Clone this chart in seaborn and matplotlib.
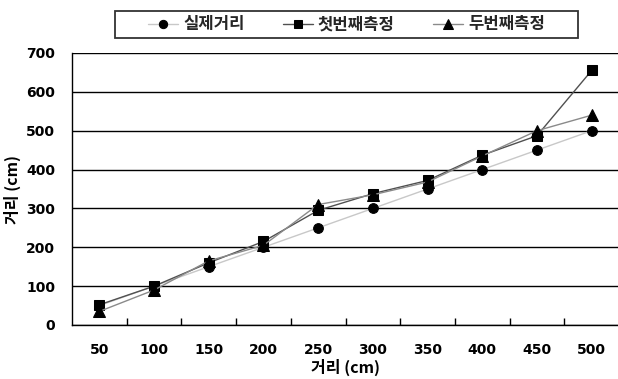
import matplotlib
matplotlib.use("Agg")
import matplotlib.pyplot as plt
from matplotlib.patches import Rectangle
import seaborn as sns
import pandas as pd

categories = ["50", "100", "150", "200", "250", "300", "350", "400", "450", "500"]
actual = [50, 100, 150, 200, 250, 300, 350, 400, 450, 500]
first = [52, 100, 160, 215, 295, 338, 372, 437, 487, 655]
second = [35, 90, 165, 205, 310, 335, 368, 435, 500, 540]
series_names = ["실제거리", "첫번째측정", "두번째측정"]

sns.set_theme(style="white")
plt.rcParams['font.family'] = ['Noto Sans CJK KR', 'DejaVu Sans']

W, H = 618, 379
fig = plt.figure(figsize=(W / 100, H / 100), dpi=100)
ax = fig.add_axes([72 / W, 1 - 325 / H, (619 - 72) / W, (325 - 53) / H])

styles = [
    dict(color="#c8c8c8", marker="o", markersize=7, lw=1.0),
    dict(color="#505050", marker="s", markersize=7.5, lw=1.0),
    dict(color="#8a8a8a", marker="^", markersize=8, lw=1.0),
]
x = list(range(len(categories)))
for name, vals, st in zip(series_names, [actual, first, second], styles):
    df = pd.DataFrame({"x": x, "y": vals})
    sns.lineplot(data=df, x="x", y="y", ax=ax, label=name,
                 color=st["color"], marker=st["marker"], markersize=st["markersize"],
                 linewidth=st["lw"], markerfacecolor="black", markeredgecolor="black")

handles, labels = ax.get_legend_handles_labels()
ax.get_legend().remove()

ax.set_xlim(-0.5, len(categories) - 0.5)
ax.set_ylim(0, 700)
ax.set_yticks(range(0, 701, 100))
ax.set_xticks(x)
ax.set_xticklabels(categories)
ax.set_xticks([i + 0.5 for i in range(len(categories) - 1)], minor=True)
ax.tick_params(axis="x", which="major", length=0, pad=13)
ax.tick_params(axis="x", which="minor", length=5, width=1, color="black", direction="in", bottom=True)
ax.tick_params(axis="y", length=0, pad=12)
for lab in ax.get_xticklabels() + ax.get_yticklabels():
    lab.set_fontfamily("DejaVu Sans")
    lab.set_fontweight("bold")
    lab.set_fontsize(10)
    lab.set_color("black")

ax.yaxis.grid(True, color="black", linewidth=1)
ax.xaxis.grid(False)
for s in ["top", "right"]:
    ax.spines[s].set_visible(False)
for s in ["left", "bottom"]:
    ax.spines[s].set_color("black")
    ax.spines[s].set_linewidth(1)

ax.set_xlabel("거리 (cm)", fontsize=11.5, fontweight="bold", labelpad=1, color="black")
ax.set_ylabel("거리 (cm)", fontsize=11.5, fontweight="bold", labelpad=4, color="black")

leg = fig.legend(handles, labels, loc="center", bbox_to_anchor=(346.5 / W, 1 - 24.5 / H),
                 ncol=3, frameon=False, handlelength=1.8,
                 columnspacing=2.3, handletextpad=0.3, markerscale=0.85,
                 prop={"weight": "bold", "size": 12})
fig.patches.append(Rectangle((115 / W, 1 - 38 / H), 463 / W, 27 / H, transform=fig.transFigure,
                             fill=False, edgecolor="#333333", linewidth=1.3))

fig.savefig("out.png", dpi=100)
